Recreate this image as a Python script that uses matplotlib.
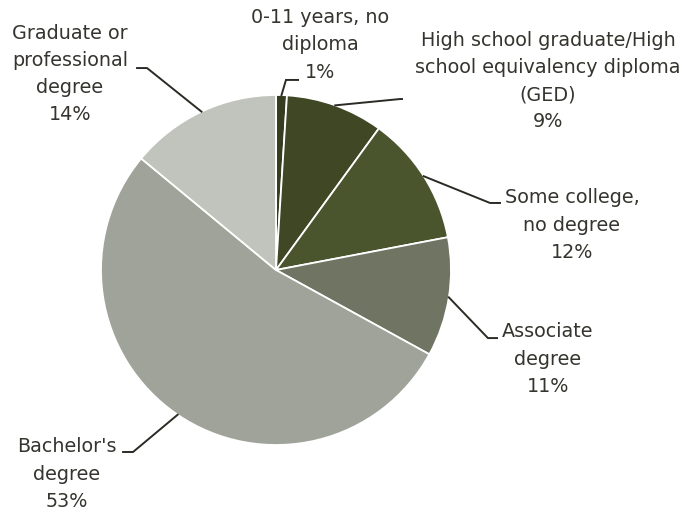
import numpy as np
import matplotlib
matplotlib.use("Agg")
import matplotlib.pyplot as plt

categories = [
    "0-11 years, no\ndiploma",
    "High school graduate/High\nschool equivalency diploma\n(GED)",
    "Some college,\nno degree",
    "Associate\ndegree",
    "Bachelor's\ndegree",
    "Graduate or\nprofessional\ndegree",
]
shares = [1, 9, 12, 11, 53, 14]
colors = ["#343d1f", "#3f4725", "#4a552e", "#6f7562", "#a0a399", "#c1c3bd"]

# label layout in pie-radius units: elbow point, end of leader, text centre
elbows = [(0.057, 1.086), (0.709, 0.977), (1.223, 0.383),
          (1.211, -0.389), (-0.817, -1.04), (-0.737, 1.154)]
ends = [(0.126, 1.086), (0.720, 0.977), (1.28, 0.383),
        (1.263, -0.389), (-0.874, -1.04), (-0.794, 1.154)]
text_pos = [(0.251, 1.286), (1.554, 1.08), (1.691, 0.257),
            (1.554, -0.509), (-1.194, -1.166), (-1.177, 1.12)]

W, H = 687, 514
fig = plt.figure(figsize=(W / 100, H / 100), dpi=100)
cx, cy, r = 276, 270, 175
ax = fig.add_axes([(cx - r) / W, (H - cy - r) / H, 2 * r / W, 2 * r / H])

wedges, _ = ax.pie(shares, colors=colors, startangle=90, counterclock=False,
                   wedgeprops=dict(edgecolor="white", linewidth=1.3))
ax.set_xlim(-1, 1)
ax.set_ylim(-1, 1)
ax.set_aspect("equal")
ax.axis("off")

text_color = "#35342e"
for w, cat, val, el, en, tp in zip(wedges, categories, shares, elbows, ends, text_pos):
    mid = np.deg2rad((w.theta1 + w.theta2) / 2)
    start = (np.cos(mid), np.sin(mid))
    ax.plot([start[0], el[0], en[0]], [start[1], el[1], en[1]],
            color="#2b2a25", lw=1.4, clip_on=False, solid_joinstyle="miter")
    ax.text(tp[0], tp[1], f"{cat}\n{val}%", ha="center", va="center",
            multialignment="center", fontsize=13.8, color=text_color,
            linespacing=1.55, family="DejaVu Sans", clip_on=False)

fig.savefig("out.png", dpi=100)
